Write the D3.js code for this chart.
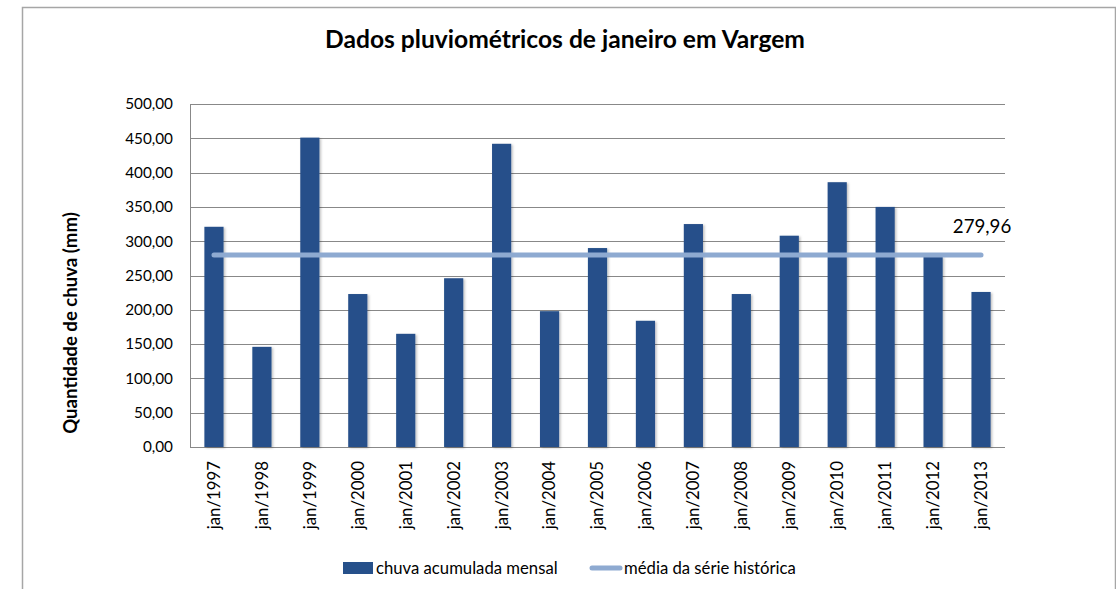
<!DOCTYPE html>
<html lang="pt">
<head>
  <meta charset="UTF-8" />
  <title>Dados pluviométricos de janeiro em Vargem</title>
  <script src="https://d3js.org/d3.v7.min.js"></script>
  <style>
    body { margin: 0; background: white; font-family: Lato, "Open Sans", sans-serif; }
    svg text { fill: #000; }
  </style>
</head>
<body>
<svg id="chart" width="1116" height="589"></svg>
<script>
// Data
const categories = ['jan/1997','jan/1998','jan/1999','jan/2000','jan/2001','jan/2002','jan/2003','jan/2004',
  'jan/2005','jan/2006','jan/2007','jan/2008','jan/2009','jan/2010','jan/2011','jan/2012','jan/2013'];
const rainfall = [321, 146, 451, 223, 165, 246, 442, 198, 290, 184, 325, 223, 308, 386, 350, 278, 226];
const historicMean = 279.96;
const yTicks = [0, 50, 100, 150, 200, 250, 300, 350, 400, 450, 500];

const barColor = '#26508a', lineColor = '#8eaad1', gridColor = '#888888';
const margin = { left: 190, right: 1005, top: 104, bottom: 447 };

const locale = d3.formatLocale({ decimal: ',', thousands: '.', grouping: [3], currency: ['R$', ''] });
const fmt = locale.format('.2f');

const svg = d3.select('#chart');

// drop shadow like the spreadsheet bars
const defs = svg.append('defs');
defs.append('filter').attr('id', 'shadow')
  .attr('x', '-20%').attr('y', '-5%').attr('width', '150%').attr('height', '115%')
  .append('feDropShadow')
  .attr('dx', 1.5).attr('dy', 1).attr('stdDeviation', 0.8)
  .attr('flood-color', '#000').attr('flood-opacity', 0.25);

// outer frame
svg.append('rect')
  .attr('x', 22.5).attr('y', 7.5).attr('width', 1093).attr('height', 600)
  .attr('fill', 'white').attr('stroke', '#a6a6a6').attr('stroke-width', 1.5);

const x = d3.scaleBand().domain(categories)
  .range([margin.left, margin.right]).paddingInner(0.6).paddingOuter(0.3);
const y = d3.scaleLinear().domain([0, 500]).range([margin.bottom, margin.top]);

// gridlines
svg.append('g').selectAll('line').data(yTicks).enter().append('line')
  .attr('x1', margin.left).attr('x2', margin.right)
  .attr('y1', d => Math.round(y(d)) + 0.5).attr('y2', d => Math.round(y(d)) + 0.5)
  .attr('stroke', gridColor).attr('stroke-width', 1);

// y axis line
svg.append('line')
  .attr('x1', margin.left + 0.5).attr('x2', margin.left + 0.5)
  .attr('y1', margin.top).attr('y2', margin.bottom)
  .attr('stroke', gridColor);

// y tick labels
svg.append('g').selectAll('text').data(yTicks).enter().append('text')
  .attr('x', 173).attr('y', d => y(d)).attr('dy', '0.35em')
  .attr('text-anchor', 'end').style('font-size', '15.3px')
  .text(d => fmt(d));

// bars
svg.append('g').selectAll('rect').data(rainfall).enter().append('rect')
  .attr('x', (d, i) => x(categories[i]))
  .attr('width', x.bandwidth())
  .attr('y', d => y(d))
  .attr('height', d => y(0) - y(d))
  .attr('fill', barColor)
  .attr('filter', 'url(#shadow)');

// x tick labels
svg.append('g').selectAll('text').data(categories).enter().append('text')
  .attr('transform', d => `translate(${x(d) + x.bandwidth() / 2},461) rotate(-90)`)
  .attr('dy', '0.35em').attr('text-anchor', 'end')
  .style('font-size', '16.8px')
  .text(d => d);

// mean line
const c0 = x(categories[0]) + x.bandwidth() / 2;
const c1 = x(categories[categories.length - 1]) + x.bandwidth() / 2;
svg.append('line')
  .attr('x1', c0).attr('x2', c1)
  .attr('y1', y(historicMean)).attr('y2', y(historicMean))
  .attr('stroke', lineColor).attr('stroke-width', 5).attr('stroke-linecap', 'round');

svg.append('text')
  .attr('x', c1 + 1).attr('y', y(historicMean) - 22)
  .attr('text-anchor', 'middle').style('font-size', '18.7px')
  .text(fmt(historicMean));

// title
svg.append('text')
  .attr('x', 565).attr('y', 48)
  .attr('text-anchor', 'middle')
  .style('font-size', '24.6px').style('font-weight', 'bold')
  .text('Dados pluviométricos de janeiro em Vargem');

// y axis title
svg.append('text')
  .attr('transform', 'translate(77,323) rotate(-90)')
  .attr('text-anchor', 'middle')
  .style('font-size', '18.6px').style('font-weight', 'bold')
  .text('Quantidade de chuva (mm)');

// legend
const legend = svg.append('g');
legend.append('rect')
  .attr('x', 343).attr('y', 562).attr('width', 30).attr('height', 12)
  .attr('fill', barColor);
legend.append('text')
  .attr('x', 376).attr('y', 568).attr('dy', '0.35em')
  .style('font-size', '16.7px')
  .text('chuva acumulada mensal');
legend.append('line')
  .attr('x1', 592).attr('x2', 620).attr('y1', 568).attr('y2', 568)
  .attr('stroke', lineColor).attr('stroke-width', 5).attr('stroke-linecap', 'round');
legend.append('text')
  .attr('x', 624).attr('y', 568).attr('dy', '0.35em')
  .style('font-size', '16.7px')
  .text('média da série histórica');
</script>
</body>
</html>
